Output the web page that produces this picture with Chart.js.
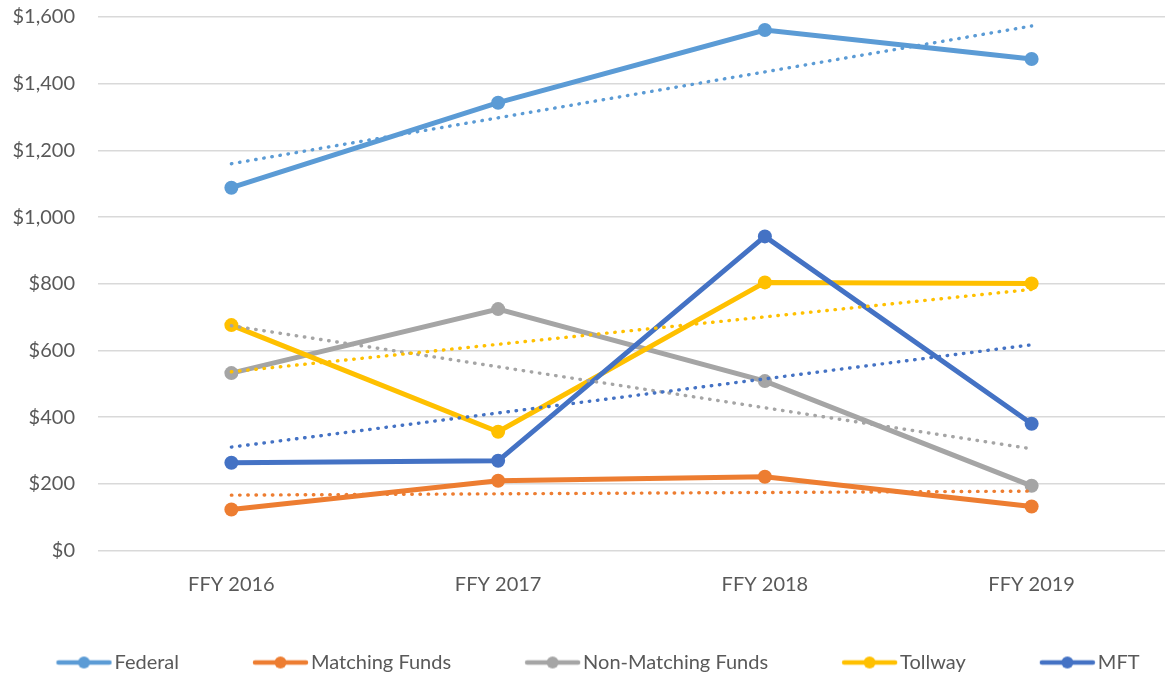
<!DOCTYPE html>
<html lang="en">
<head>
    <meta charset="UTF-8">
    <script src="https://cdn.jsdelivr.net/npm/chart.js"></script>
    <title>Funding by year</title>
    <style>
        html, body { margin: 0; padding: 0; overflow: hidden; background: #fff; }
        #wrap { width: 1172px; height: 679px; position: relative; }
    </style>
</head>
<body>
    <div id="wrap">
        <canvas id="myChart" width="1172" height="679"></canvas>
    </div>
    <script>
        // values
        const categories = ['FFY 2016', 'FFY 2017', 'FFY 2018', 'FFY 2019'];
        const federal = [1088, 1343, 1561, 1474];
        const matchingFunds = [123, 209, 221, 132];
        const nonMatchingFunds = [532, 724, 508, 194];
        const tollway = [676, 356, 804, 801];
        const mft = [263, 269, 942, 380];

        // dotted trendlines: value at FFY 2016 and at FFY 2019
        const federalTrend = [1160, 1573];
        const matchingTrend = [166, 178];
        const nonMatchingTrend = [674, 305];
        const tollwayTrend = [536, 783];
        const mftTrend = [310, 617];

        const yTicks = [0, 200, 400, 600, 800, 1000, 1200, 1400, 1600];

        const series = [
            { label: 'Federal', data: federal, trend: federalTrend, color: '#5B9BD5' },
            { label: 'Matching Funds', data: matchingFunds, trend: matchingTrend, color: '#ED7D31' },
            { label: 'Non-Matching Funds', data: nonMatchingFunds, trend: nonMatchingTrend, color: '#A5A5A5' },
            { label: 'Tollway', data: tollway, trend: tollwayTrend, color: '#FFC000' },
            { label: 'MFT', data: mft, trend: mftTrend, color: '#4472C4' }
        ];

        const FONT = 'Lato, "Open Sans", sans-serif';
        const TXT = '#595959';
        const LEGEND_SHIFT = -18;

        // line+marker icon for the legend; wider than the legend box so the
        // symbol sits close to its text, as in the original
        function legendIcon(color) {
            let c = document.createElement('canvas');
            c.width = 124; c.height = 16;
            let g = c.getContext('2d');
            g.strokeStyle = color;
            g.lineWidth = 4.5;
            g.lineCap = 'round';
            g.beginPath();
            g.moveTo(70, 8);
            g.lineTo(121, 8);
            g.stroke();
            g.fillStyle = color;
            g.beginPath();
            g.arc(95.5, 8, 6, 0, Math.PI * 2);
            g.fill();
            return c;
        }

        let datasets = [];
        series.forEach(function (s, i) {
            datasets.push({
                label: s.label,
                data: s.data,
                borderColor: s.color,
                backgroundColor: s.color,
                borderWidth: 5,
                pointRadius: 7,
                pointHoverRadius: 7,
                pointBorderWidth: 0,
                tension: 0,
                order: 10 - i,
                icon: legendIcon(s.color)
            });
        });
        series.forEach(function (s, i) {
            datasets.push({
                label: s.label + ' trend',
                data: [s.trend[0], null, null, s.trend[1]],
                spanGaps: true,
                borderColor: s.color,
                borderWidth: 3.4,
                borderDash: [0.5, 7.7],
                borderCapStyle: 'round',
                pointRadius: 0,
                tension: 0,
                order: 5 - i
            });
        });

        // nudge the legend row sideways
        const legendShift = {
            id: 'legendShift',
            afterLayout: function (chart) {
                chart.legend.left += LEGEND_SHIFT;
                chart.legend.right += LEGEND_SHIFT;
            }
        };

        let ctx = document.getElementById('myChart');
        let myChart = new Chart(ctx, {
            type: 'line',
            data: { labels: categories, datasets: datasets },
            plugins: [legendShift],
            options: {
                responsive: false,
                maintainAspectRatio: false,
                animation: false,
                layout: { padding: { top: 0, right: 0, bottom: -3.5, left: 0 } },
                scales: {
                    x: {
                        offset: true,
                        grid: { display: false, drawTicks: false },
                        border: { display: false },
                        afterFit: function (axis) { axis.height += 20; },
                        ticks: { color: TXT, font: { family: FONT, size: 20 }, padding: 22 }
                    },
                    y: {
                        min: 0,
                        max: 1600,
                        afterBuildTicks: function (axis) {
                            axis.ticks = yTicks.map(function (v) { return { value: v }; });
                        },
                        afterFit: function (axis) {
                            axis.width = 98;
                            axis.paddingTop = 17;
                            axis.paddingBottom = 0;
                        },
                        grid: { color: '#D9D9D9', lineWidth: 1.5, drawTicks: false },
                        border: { display: false },
                        ticks: {
                            color: TXT,
                            font: { family: FONT, size: 20 },
                            padding: 23,
                            callback: function (v) { return '$' + v.toLocaleString('en-US'); }
                        }
                    }
                },
                plugins: {
                    tooltip: { enabled: false },
                    legend: {
                        position: 'bottom',
                        labels: {
                            color: TXT,
                            font: { family: FONT, size: 20 },
                            usePointStyle: true,
                            pointStyleWidth: 108,
                            boxHeight: 16,
                            padding: 14,
                            filter: function (item) { return item.datasetIndex < 5; },
                            sort: function (a, b) { return a.datasetIndex - b.datasetIndex; },
                            generateLabels: function (chart) {
                                let items = Chart.defaults.plugins.legend.labels.generateLabels(chart);
                                items.forEach(function (it) {
                                    let ds = chart.data.datasets[it.datasetIndex];
                                    if (ds.icon) it.pointStyle = ds.icon;
                                });
                                return items;
                            }
                        }
                    }
                }
            }
        });
    </script>
</body>
</html>
